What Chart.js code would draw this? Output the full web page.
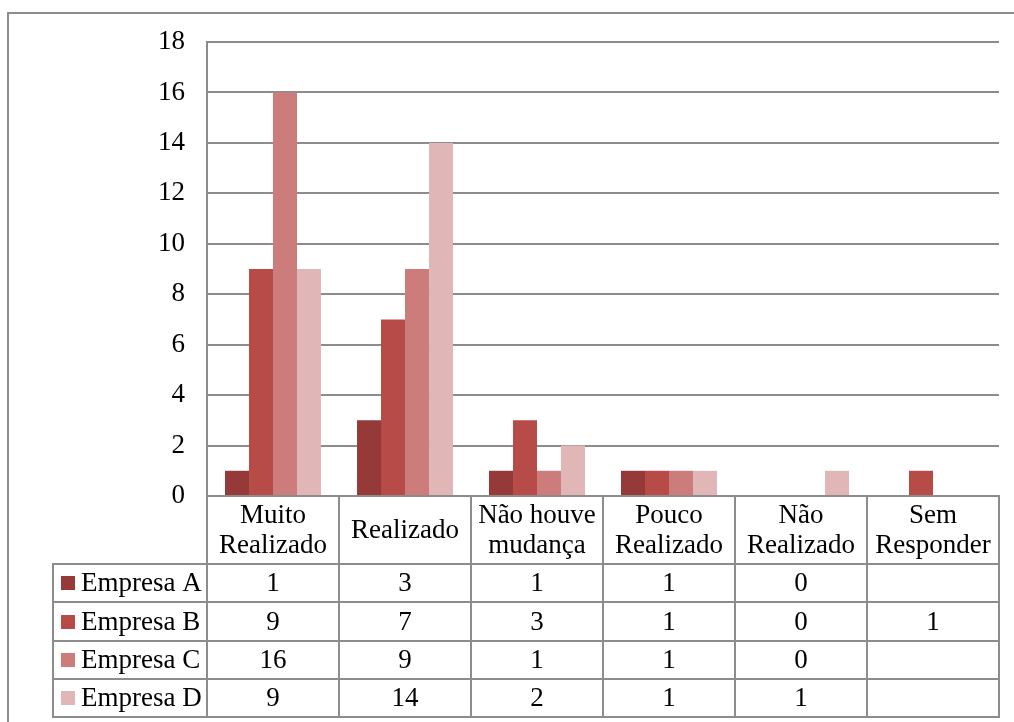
<!DOCTYPE html>
<html>
<head>
<meta charset="utf-8">
<script src="https://cdn.jsdelivr.net/npm/chart.js@4/dist/chart.umd.min.js"></script>
<style>
  html, body { margin: 0; padding: 0; background: #fff; }
  canvas { display: block; }
</style>
</head>
<body>
<canvas id="c" width="1014" height="722"></canvas>
<script>
// Categories (multi-line header labels) and series values
const categories = [
  ['Muito', 'Realizado'],
  ['Realizado'],
  ['Não houve', 'mudança'],
  ['Pouco', 'Realizado'],
  ['Não', 'Realizado'],
  ['Sem', 'Responder']
];
const seriesNames = ['Empresa A', 'Empresa B', 'Empresa C', 'Empresa D'];
const empresaA = [1, 3, 1, 1, 0, null];
const empresaB = [9, 7, 3, 1, 0, 1];
const empresaC = [16, 9, 1, 1, 0, null];
const empresaD = [9, 14, 2, 1, 1, null];
const yTicks = [0, 2, 4, 6, 8, 10, 12, 14, 16, 18];

const colors = ['#953a39', '#b64b48', '#cb7c7b', '#e0b6b6'];
const seriesValues = [empresaA, empresaB, empresaC, empresaD];
const FAMILY = '"Liberation Serif", "Times New Roman", serif';
const FONT = '27px ' + FAMILY;
const LINE = '#8c8c8c';

// Geometry of the data table under the plot
const headerBottom = 564;
const rowLines = [564, 602, 641, 679, 717];
const tableLeft = 53;

const tablePlugin = {
  id: 'dataTable',
  afterDraw(chart) {
    const ctx = chart.ctx;
    const area = chart.chartArea;
    const xs = chart.scales.x;
    const n = categories.length;
    const bounds = [area.left];
    for (let i = 0; i < n - 1; i++) {
      bounds.push((xs.getPixelForValue(i) + xs.getPixelForValue(i + 1)) / 2);
    }
    bounds.push(area.right);

    ctx.save();
    ctx.strokeStyle = LINE;
    ctx.lineWidth = 2;

    // outer frame
    ctx.strokeRect(8, 13, 1200, 900);

    // axis baseline and vertical column lines
    ctx.beginPath();
    ctx.moveTo(area.left - 1, area.bottom);
    ctx.lineTo(area.right + 1, area.bottom);
    bounds.forEach(b => {
      ctx.moveTo(b, area.bottom);
      ctx.lineTo(b, rowLines[rowLines.length - 1] + 1);
    });
    // legend column left edge
    ctx.moveTo(tableLeft, headerBottom - 1);
    ctx.lineTo(tableLeft, rowLines[rowLines.length - 1] + 1);
    // horizontal row lines
    rowLines.forEach(y => {
      ctx.moveTo(tableLeft - 1, y);
      ctx.lineTo(area.right + 1, y);
    });
    ctx.stroke();

    ctx.fillStyle = '#000';
    ctx.font = FONT;
    ctx.textBaseline = 'middle';
    ctx.textAlign = 'center';

    // header labels
    const headMid = (area.bottom + headerBottom) / 2 + 1;
    categories.forEach((lines, i) => {
      const cx = (bounds[i] + bounds[i + 1]) / 2;
      const lh = 30;
      const y0 = headMid - (lines.length - 1) * lh / 2;
      lines.forEach((t, k) => ctx.fillText(t, cx, y0 + k * lh));
    });

    // series rows
    seriesNames.forEach((name, r) => {
      const ym = (rowLines[r] + rowLines[r + 1]) / 2 + 1;
      ctx.fillStyle = colors[r];
      ctx.fillRect(61, Math.round(ym - 8), 14, 14);
      ctx.fillStyle = '#000';
      ctx.textAlign = 'left';
      ctx.fillText(name, 81, ym);
      ctx.textAlign = 'center';
      seriesValues[r].forEach((v, i) => {
        if (v === null || v === undefined) return;
        ctx.fillText(String(v), (bounds[i] + bounds[i + 1]) / 2, ym);
      });
    });
    ctx.restore();
  }
};

new Chart(document.getElementById('c'), {
  type: 'bar',
  data: {
    labels: categories,
    datasets: seriesNames.map((name, i) => ({
      label: name,
      data: seriesValues[i],
      backgroundColor: colors[i],
      borderWidth: 0,
      categoryPercentage: 0.727,
      barPercentage: 1.0
    }))
  },
  options: {
    responsive: false,
    animation: false,
    devicePixelRatio: 1,
    layout: { padding: { left: 0, top: 42, right: 15, bottom: 226 } },
    plugins: { legend: { display: false }, tooltip: { enabled: false } },
    scales: {
      x: { display: false },
      y: {
        min: 0,
        max: 18,
        afterBuildTicks(scale) { scale.ticks = yTicks.map(v => ({ value: v })); },
        afterFit(scale) { scale.width = 207; },
        ticks: {
          font: { family: FAMILY, size: 27 },
          color: '#000',
          padding: 22
        },
        grid: { color: LINE, lineWidth: 2, drawTicks: false },
        border: { color: LINE, width: 2 }
      }
    }
  },
  plugins: [tablePlugin]
});
</script>
</body>
</html>
